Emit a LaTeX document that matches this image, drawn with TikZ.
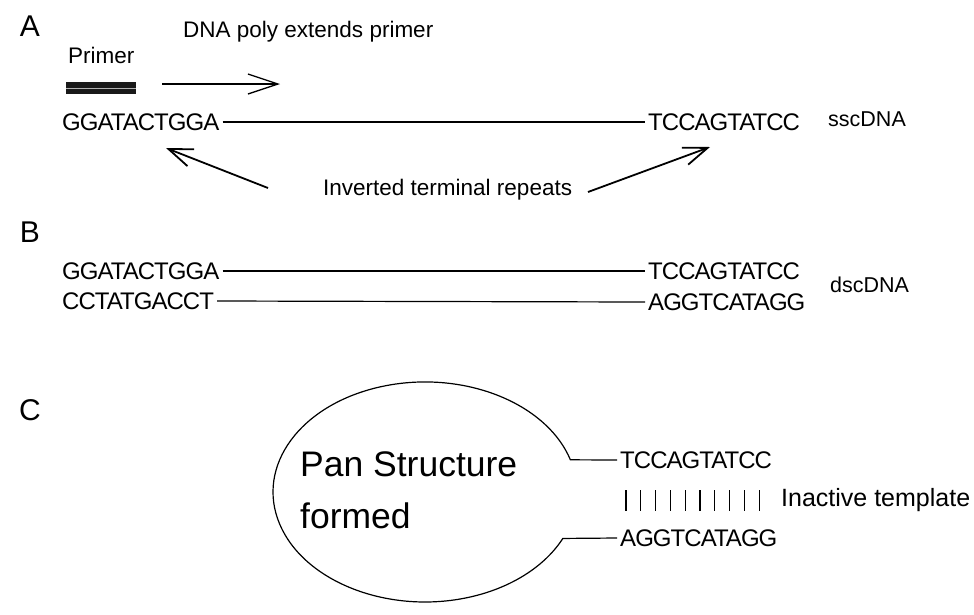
\documentclass[tikz,border=0pt]{standalone}
\usepackage{fontspec}
\setmainfont{Liberation Sans}
\newfontfamily\seqfont[LetterSpace=-4]{Liberation Sans}
\usetikzlibrary{arrows.meta, positioning, calc}

\begin{document}
\begin{tikzpicture}[
    x=1pt, y=1pt,
    panel/.style={font=\fontsize{30}{34}\selectfont, inner sep=0pt},
    lbl/.style={font=\fontsize{22.5}{27}\selectfont, inner sep=0pt, anchor=west},
    seq/.style={font=\seqfont\fontsize{24}{28}\selectfont, inner xsep=3pt, inner ysep=0pt, anchor=west},
    strand/.style={line width=1.2pt},
    barb/.style={-{Straight Barb[length=24pt, width=18pt, line width=1.8pt]}, line width=1.8pt},
    primerbar/.style={minimum width=70pt, minimum height=12pt, inner sep=0pt, fill=black!90,
                      path picture={\draw[gray!60, line width=0.8pt]
                        (path picture bounding box.west) -- (path picture bounding box.east);}},
]
\useasboundingbox (0,0) rectangle (974,-614);

% --- Panel A: single strand with primer ---
\node[panel] (pA) at (30,-26) {A};
\node[lbl] (poly) at (183,-32) {DNA poly extends primer};
\node[lbl] (primlbl) at (68,-55) {Primer};
\node[primerbar] (primer) at (101,-88) {};
\coordinate (extS) at (162,-84);
\coordinate (extE) at (280,-84);
\draw[-{Straight Barb[length=30pt, width=20pt, line width=1.3pt]}, line width=1.3pt] (extS) -- (extE);

\node[seq] (a5) at (59,-122) {GGATACTGGA};
\node[seq] (a3) at (645,-122) {TCCAGTATCC};
\draw[strand] (a5.east) -- (a3.west);
\node[lbl, font=\fontsize{21.5}{25}\selectfont] (ss) at (828,-119) {sscDNA};

\node[lbl] (itr) at (323,-190) {Inverted terminal repeats};
\coordinate (itrL) at (268,-188);
\coordinate (itrR) at (588,-192);
\coordinate (tipL) at (166,-148);
\coordinate (tipR) at (710,-147);
\draw[barb] (itrL) -- (tipL);
\draw[barb] (itrR) -- (tipR);

% --- Panel B: double strand ---
\node[panel] (pB) at (30,-232) {B};
\node[seq] (b5) at (59,-271) {GGATACTGGA};
\node[seq] (b3) at (645,-271) {TCCAGTATCC};
\draw[strand] (b5.east) -- (b3.west);
\node[seq] (c5) at (59,-301) {CCTATGACCT};
\node[seq] (c3) at (645,-302) {AGGTCATAGG};
\draw[strand] (c5.east) -- (c3.west);
\node[lbl, font=\fontsize{21.5}{25}\selectfont] (ds) at (830,-285) {dscDNA};

% --- Panel C: pan structure ---
\node[panel] (pC) at (30,-410) {C};
\node[seq] (t3) at (617,-460) {TCCAGTATCC};
\node[seq] (t5) at (617,-538) {AGGTCATAGG};
\draw[strand] (t3.west) -- (570.4,-459.8)
    arc[start angle=17, end angle=335, x radius=152, y radius=110] -- (t5.west);
\node[font=\fontsize{35.5}{52}\selectfont, align=left, anchor=north west, inner sep=0pt]
    (pan) at (300,-452) {Pan Structure\\formed};
\foreach \i in {0,...,9}
    \draw[line width=1.3pt] (626+14.8*\i,-490) -- ++(0,-21);
\node[lbl, font=\fontsize{25}{29}\selectfont] (inact) at (781,-500) {Inactive template};

\end{tikzpicture}
\end{document}
